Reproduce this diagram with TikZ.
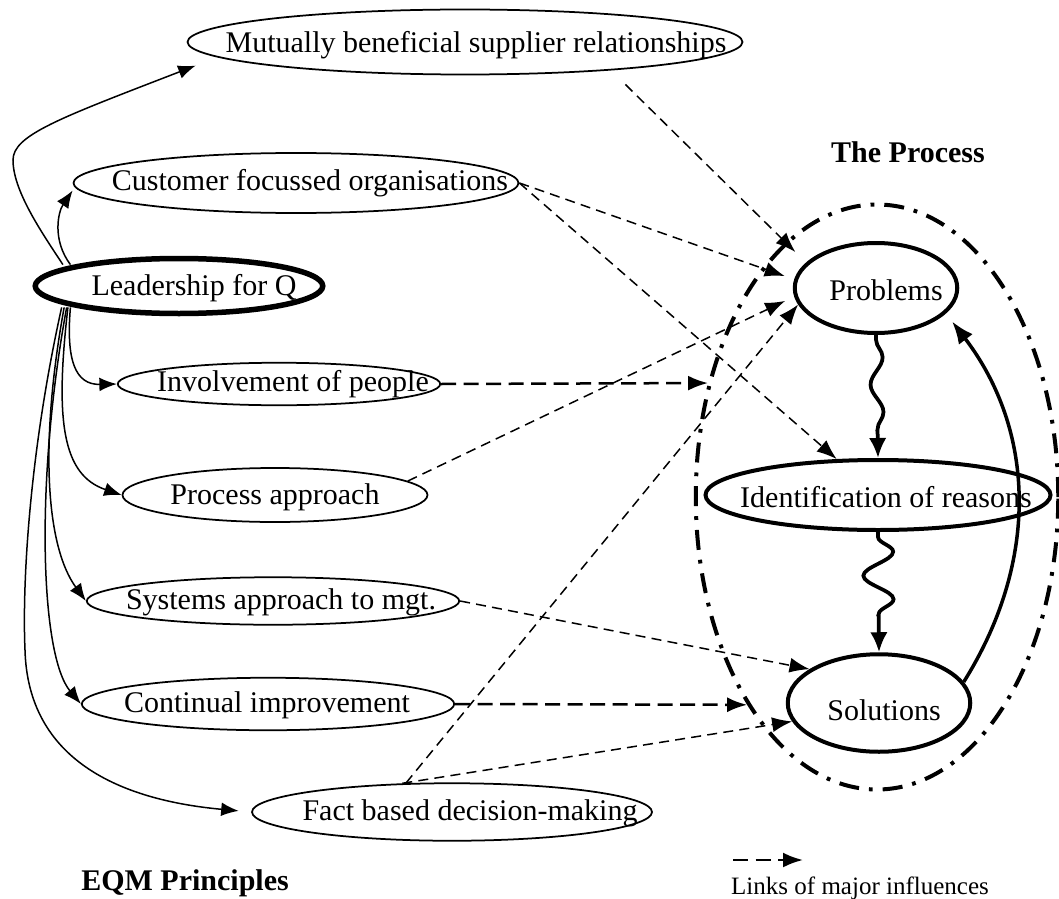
\documentclass[tikz,border=0pt]{standalone}
\usepackage{fontspec}
\setmainfont{Liberation Serif}
\usetikzlibrary{shapes.geometric,arrows.meta,decorations.pathmorphing}

\tikzset{
  principle/.style={draw, ellipse, line width=0.7pt, inner sep=0pt},
  stage/.style={draw, ellipse, line width=1.6pt, inner sep=0pt},
  lead arrow/.style={-{Latex[length=7pt,width=5.5pt]}, line width=0.6pt},
  influence/.style={-{Latex[length=8pt,width=6pt]}, line width=0.6pt, dash pattern=on 4pt off 2.5pt},
  main influence/.style={-{Latex[length=8pt,width=6pt]}, line width=1pt, dash pattern=on 6pt off 3pt},
  wavy/.style={-{Latex[length=8pt,width=7pt]}, line width=1.5pt, decorate},
  loop back/.style={-{Latex[length=9pt,width=7pt]}, line width=1.4pt}
}

\begin{document}
\begin{tikzpicture}[x=0.4pt, y=-0.4pt, font=\fontsize{12}{14}\selectfont]
\useasboundingbox (0,0) rectangle (1059,899);

% principles
\node[principle, minimum width=222pt, minimum height=26pt] (mbs) at (465,42) {};
\node[principle, minimum width=178pt, minimum height=24pt] (cfo) at (296,183) {};
\node[principle, line width=2.2pt, minimum width=115pt, minimum height=22pt] (lead) at (179,286) {};
\node[principle, minimum width=129pt, minimum height=17pt] (inv) at (279,384) {};
\node[principle, minimum width=122pt, minimum height=21.6pt] (pra) at (275,495) {};
\node[principle, minimum width=149pt, minimum height=19pt] (sys) at (273,601) {};
\node[principle, minimum width=149pt, minimum height=21pt] (ci) at (268,704) {};
\node[principle, minimum width=160pt, minimum height=23pt] (fbd) at (452,812) {};

\node (mbs-t) at (476,45) {Mutually beneficial supplier relationships};
\node (cfo-t) at (310,183) {Customer focussed organisations};
\node (lead-t) at (194,288) {Leadership for Q};
\node (inv-t) at (293,384) {Involvement of people};
\node (pra-t) at (275,497) {Process approach};
\node (sys-t) at (281,602) {Systems approach to mgt.};
\node (ci-t) at (267,705) {Continual improvement};
\node (fbd-t) at (470,813) {Fact based decision-making};

% the process
\node[draw, ellipse, line width=1.6pt, dash pattern=on 8pt off 4pt on 1.5pt off 4pt,
      minimum width=145pt, minimum height=234pt] (proc) at (877,497) {};
\node[stage, minimum width=65pt, minimum height=36pt] (prob) at (876,288) {};
\node[stage, minimum width=138pt, minimum height=28pt] (idr) at (878,495) {};
\node[stage, minimum width=73pt, minimum height=39pt] (sol) at (879,703) {};

\node (prob-t) at (886,290) {Problems};
\node (idr-t) at (886,497) {Identification of reasons};
\node (sol-t) at (884,710) {Solutions};

\node[font=\fontsize{12}{14}\selectfont\bfseries] (proc-title) at (908,152) {The Process};
\node[font=\fontsize{12}{14}\selectfont\bfseries] (eqm-title) at (185,883) {EQM Principles};

% leadership drives every principle
\draw[lead arrow] ([xshift=-5pt]lead.north west) .. controls (40,230) and (13,190) .. (13,160)
  .. controls (13,135) and (60,118) .. ([xshift=-29pt]mbs.south west);
\draw[lead arrow] ([xshift=-2pt]lead.north west) .. controls (52,240) and (58,212) .. ([yshift=-3pt]cfo.west);
\draw[lead arrow] ([xshift=-2pt]lead.south west) .. controls (66,360) and (75,385) .. (inv.west);
\draw[lead arrow] ([xshift=-3pt]lead.south west) .. controls (55,420) and (62,475) .. (pra.west);
\draw[lead arrow] ([xshift=-4.5pt]lead.south west) .. controls (40,440) and (45,545) .. (sys.west);
\draw[lead arrow] ([xshift=-3.5pt]lead.south west) .. controls (35,480) and (40,655) .. (ci.west);
\draw[lead arrow, shorten >=5pt] ([xshift=-5.5pt]lead.south west) .. controls (30,450) and (22,580) .. (25,650)
  .. controls (28,760) and (120,800) .. (fbd.west);

% major influences
\draw[influence, shorten <=8pt, shorten >=6pt] (mbs.-11) -- (prob.160);
\draw[influence, shorten >=4pt] (cfo.east) -- (prob.174);
\draw[influence] (cfo.east) -- (idr.139);
\draw[main influence] (inv.east) -- (proc.146);
\draw[influence, shorten >=4pt] (pra.6) -- (prob.186);
\draw[influence] (fbd.148) -- (prob.192);
\draw[influence] (sys.east) -- (sol.154);
\draw[main influence] (ci.east) -- (proc.238);
\draw[influence] (fbd.150) -- (sol.192);

% inside the process
\draw[wavy, decoration={snake, amplitude=2.5pt, segment length=22pt, pre length=2pt, post length=9pt}]
  (prob.south) -- (idr.north);
\draw[wavy, decoration={snake, amplitude=6pt, segment length=19pt, pre length=2pt, post length=9pt}]
  (idr.south) -- (sol.north);
\draw[loop back, shorten >=4pt] (sol.14) .. controls (1040,560) and (1035,430) .. (prob.-20);

% key
\coordinate (key-a) at (733,860);
\coordinate (key-b) at (803,860);
\draw[main influence] (key-a) -- (key-b);
\node[font=\fontsize{10}{12}\selectfont] (key-t) at (860,888) {Links of major influences};
\end{tikzpicture}
\end{document}
